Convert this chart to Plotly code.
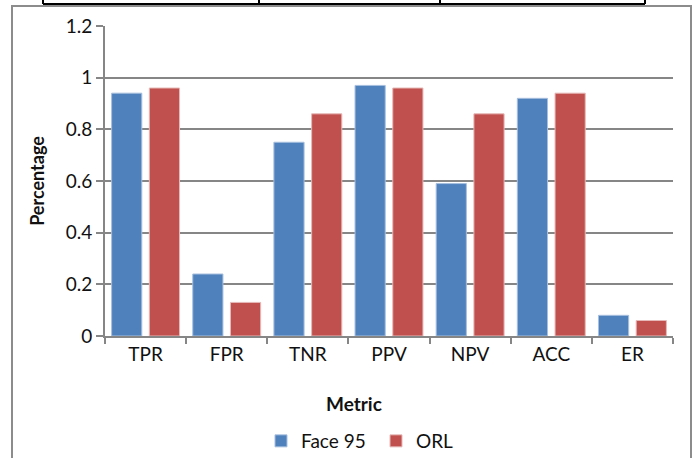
import plotly.graph_objects as go

metrics = ["TPR", "FPR", "TNR", "PPV", "NPV", "ACC", "ER"]
face95 = [0.94, 0.24, 0.75, 0.97, 0.59, 0.92, 0.08]
orl = [0.96, 0.13, 0.86, 0.96, 0.86, 0.94, 0.06]
series_names = ["Face 95", "ORL"]
y_ticks = [0, 0.2, 0.4, 0.6, 0.8, 1, 1.2]
y_tick_labels = ["0", "0.2", "0.4", "0.6", "0.8", "1", "1.2"]

W, H = 697, 458
L, R, T, B = 105, 673, 26, 336  # plot area in pixels
FONT = "Lato, Carlito, Calibri, sans-serif"
GRID = "#868686"


def px_x(x):
    return (x - L) / (R - L)


def px_y(y):
    return (B - y) / (B - T)


fig = go.Figure()
fig.add_trace(go.Bar(x=metrics, y=face95, name=series_names[0],
                     marker=dict(color="#4F81BD", line=dict(color="#A7BFDE", width=1))))
fig.add_trace(go.Bar(x=metrics, y=orl, name=series_names[1],
                     marker=dict(color="#C0504D", line=dict(color="#E6B9B8", width=1))))

shapes = [
    # outer chart border
    dict(type="rect", xref="paper", yref="paper",
         x0=px_x(12), x1=px_x(691), y0=px_y(475), y1=px_y(6),
         line=dict(color="#8C8C8C", width=2), fillcolor="rgba(0,0,0,0)", layer="above"),
    # table fragment at top
    dict(type="line", xref="paper", yref="paper",
         x0=px_x(43), x1=px_x(645), y0=px_y(4), y1=px_y(4),
         line=dict(color="black", width=2)),
]
for vx in [43, 259, 440, 645]:
    shapes.append(dict(type="line", xref="paper", yref="paper",
                       x0=px_x(vx), x1=px_x(vx), y0=px_y(-2), y1=px_y(4),
                       line=dict(color="black", width=2)))

fig.update_layout(
    width=W, height=H,
    margin=dict(l=L, r=W - R, t=T, b=H - B, autoexpand=False),
    paper_bgcolor="white", plot_bgcolor="white",
    font=dict(family=FONT, size=19, color="#111111"),
    barmode="group", bargap=0.07, bargroupgap=0.2,
    showlegend=True,
    legend=dict(orientation="h", x=px_x(261), xanchor="left",
                y=px_y(441), yanchor="middle", entrywidth=70,
                font=dict(family=FONT, size=19, color="#111111"),
                itemclick=False, traceorder="normal"),
    xaxis=dict(showline=True, linecolor=GRID, linewidth=2,
               ticks="outside", tickson="boundaries", ticklen=6, tickcolor=GRID, tickwidth=2,
               showgrid=False, tickfont=dict(size=19), fixedrange=True),
    yaxis=dict(range=[0, 1.2], tickvals=y_ticks, ticktext=y_tick_labels,
               showline=True, linecolor=GRID, linewidth=2,
               ticks="outside", ticklen=7, tickcolor=GRID, tickwidth=2,
               showgrid=True, gridcolor=GRID, gridwidth=2, zeroline=False,
               tickfont=dict(size=19), fixedrange=True,
               title=dict(text="<b>Percentage</b>", font=dict(size=18), standoff=16)),
    shapes=shapes,
    annotations=[
        dict(text="<b>Metric</b>", xref="paper", yref="paper",
             x=px_x(354), y=px_y(403), xanchor="center", yanchor="middle",
             showarrow=False, font=dict(family=FONT, size=19, color="#111111")),
    ],
)

fig.write_html("out.html")
